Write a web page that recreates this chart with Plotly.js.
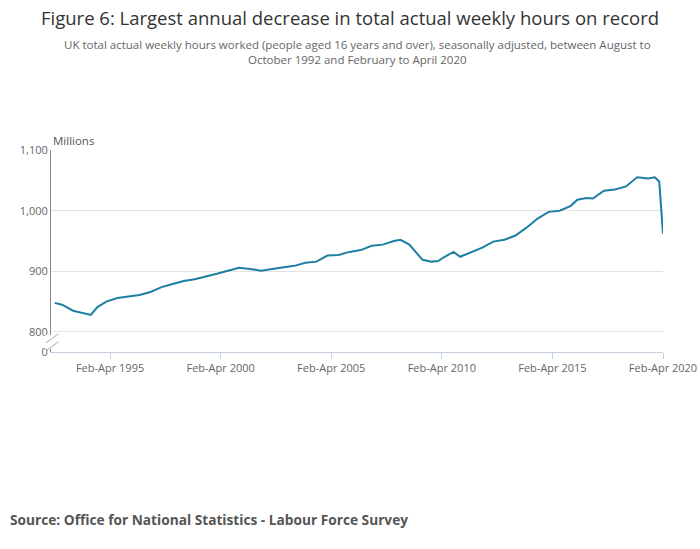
<!DOCTYPE html>
<html>
<head>
<script src="https://cdn.plot.ly/plotly-3.0.1.min.js"></script>
<style>body{margin:0;}</style>
</head>
<body>
<div id="chart" style="width:700px;height:549px;"></div>
<script>
// decimal year (centre of the rolling quarter) and total weekly hours, millions
var years = [1992.67, 1993.0, 1993.5, 1994.0, 1994.3, 1994.6, 1995.0, 1995.5, 1996.0, 1996.5,
  1997.0, 1997.5, 1998.0, 1998.5, 1999.0, 1999.5, 2000.0, 2000.5, 2001.0, 2001.5,
  2002.0, 2002.5, 2003.0, 2003.5, 2004.0, 2004.5, 2005.0, 2005.5, 2006.0, 2006.5,
  2007.0, 2007.5, 2008.0, 2008.3, 2008.7, 2009.0, 2009.3, 2009.7, 2010.0, 2010.3,
  2010.7, 2011.0, 2011.5, 2012.0, 2012.5, 2013.0, 2013.5, 2014.0, 2014.5, 2015.0,
  2015.5, 2016.0, 2016.3, 2016.7, 2017.0, 2017.5, 2018.0, 2018.5, 2019.0, 2019.5,
  2019.8, 2020.0, 2020.17];
var hours = [848, 845, 835, 831, 828, 841, 850, 856, 858, 861,
  866, 874, 879, 884, 887, 891, 896, 901, 906, 904,
  901, 904, 907, 909, 914, 916, 926, 927, 932, 935,
  942, 944, 950, 952, 944, 931, 919, 916, 917, 924,
  932, 924, 931, 939, 949, 952, 959, 972, 987, 998,
  1000, 1008, 1018, 1021, 1020, 1033, 1035, 1040, 1055, 1053,
  1055, 1048, 962];

var tickYears = [1995.17, 2000.17, 2005.17, 2010.17, 2015.17, 2020.17];
var tickLabels = ['Feb-Apr 1995', 'Feb-Apr 2000', 'Feb-Apr 2005', 'Feb-Apr 2010', 'Feb-Apr 2015', 'Feb-Apr 2020'];
var yVals = [767, 800, 900, 1000, 1100];
var yLabels = ['0', '800', '900', '1,000', '1,100'];

var trace = {
  x: years, y: hours, type: 'scatter', mode: 'lines',
  line: {color: '#1c7fa3', width: 2}, hoverinfo: 'skip'
};

var layout = {
  width: 700, height: 549,
  margin: {l: 51, r: 37, t: 150, b: 197},
  paper_bgcolor: '#fff', plot_bgcolor: '#fff',
  font: {family: 'Open Sans, sans-serif', color: '#666', size: 11},
  showlegend: false,
  title: {text: 'Figure 6: Largest annual decrease in total actual weekly hours on record',
    font: {size: 18.5, color: '#333'}, x: 0.5, xanchor: 'center', y: 0.967, yanchor: 'middle'},
  xaxis: {range: [1992.5, 2020.17], tickvals: tickYears, ticktext: tickLabels,
    showgrid: false, zeroline: false, showline: true, linecolor: '#c6d1e0',
    ticks: 'outside', ticklen: 6, tickcolor: '#c6d1e0', tickfont: {size: 11, color: '#666'}},
  yaxis: {range: [767, 1100], tickvals: yVals, ticktext: yLabels,
    showgrid: true, gridcolor: '#e2e2e2', zeroline: false, showline: true, linecolor: '#888',
    ticks: '', tickfont: {size: 11, color: '#666'}},
  shapes: [
    {type: 'rect', xref: 'paper', yref: 'y', x0: -0.01, x1: 0.01, y0: 772, y1: 795,
      fillcolor: '#fff', line: {width: 0}},
    {type: 'line', xref: 'paper', yref: 'y', x0: -0.008, x1: 0.012, y0: 782, y1: 797,
      line: {color: '#aaa', width: 1}},
    {type: 'line', xref: 'paper', yref: 'y', x0: -0.008, x1: 0.012, y0: 769, y1: 784,
      line: {color: '#aaa', width: 1}}
  ],
  annotations: [
    {text: 'UK total actual weekly hours worked (people aged 16 years and over), seasonally adjusted, between August to<br>October 1992 and February to April 2020',
      xref: 'paper', yref: 'paper', x: 0.5, y: 1.485, xanchor: 'center', yanchor: 'middle',
      showarrow: false, font: {size: 11.5, color: '#666'}},
    {text: 'Millions', xref: 'paper', yref: 'paper', x: 0, y: 1.0, xanchor: 'left', yanchor: 'bottom',
      showarrow: false, font: {size: 11.5, color: '#555'}},
    {text: '<b>Source: Office for National Statistics - Labour Force Survey</b>',
      xref: 'paper', yref: 'paper', x: -0.07, y: -0.83, xanchor: 'left', yanchor: 'middle',
      showarrow: false, font: {size: 13.7, color: '#555'}}
  ]
};

Plotly.newPlot('chart', [trace], layout, {displayModeBar: false, staticPlot: true});
</script>
</body>
</html>
